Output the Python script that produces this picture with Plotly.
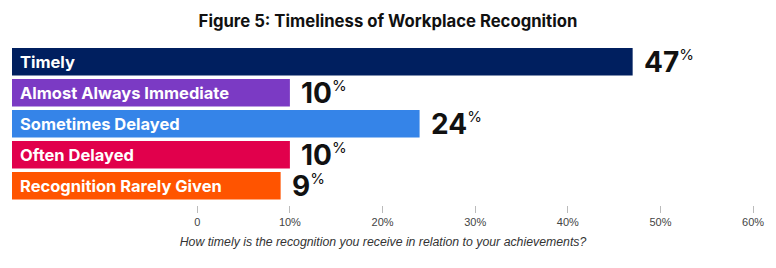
import plotly.graph_objects as go

categories = ["Timely", "Almost Always Immediate", "Sometimes Delayed", "Often Delayed", "Recognition Rarely Given"]
values = [47, 10, 24, 10, 9]
colors = ["#001F5F", "#7B3AC4", "#3584E8", "#E1004C", "#FF5400"]
tick_values = [0, 10, 20, 30, 40, 50, 60]
tick_labels = ["0", "10%", "20%", "30%", "40%", "50%", "60%"]
title_text = "Figure 5: Timeliness of Workplace Recognition"
axis_title = "How timely is the recognition you receive in relation to your achievements?"

bar_base = -20  # bars extend left of the zero tick

fig = go.Figure()
fig.add_trace(go.Bar(
    y=categories,
    x=[v - bar_base for v in values],
    base=bar_base,
    orientation="h",
    marker=dict(color=colors, line=dict(width=0)),
    width=0.89,
    hoverinfo="skip",
))

annotations = []
for cat, val in zip(categories, values):
    annotations.append(dict(
        x=bar_base, y=cat, xref="x", yref="y",
        text="<b>%s</b>" % cat, showarrow=False,
        xanchor="left", yanchor="middle", xshift=6, yshift=0,
        font=dict(family="Inter", size=16.5, color="white"),
    ))
    annotations.append(dict(
        x=val, y=cat, xref="x", yref="y",
        text="<b>%d</b><sup><span style='font-size:15px'>%%</span></sup>" % val,
        showarrow=False,
        xanchor="left", yanchor="middle", xshift=9, yshift=0,
        font=dict(family="Inter", size=28, color="#111111"),
    ))

fig.update_layout(
    width=776, height=268,
    margin=dict(l=12, r=16, t=46, b=63),
    paper_bgcolor="white", plot_bgcolor="white",
    showlegend=False,
    title=dict(text="<b>%s</b>" % title_text, x=0.5, xanchor="center", y=0.92, yanchor="middle",
               font=dict(family="Inter", size=16.7, color="#111111")),
    xaxis=dict(
        range=[-20, 60.1], tickvals=tick_values, ticktext=tick_labels,
        showgrid=False, zeroline=False, showline=False,
        ticks="outside", ticklen=7, tickcolor="#BBBBBB", tickwidth=1,
        tickfont=dict(family="Liberation Sans", size=11, color="#444444"),
        title=dict(text="<i>%s</i>" % axis_title, standoff=10,
                   font=dict(family="Liberation Sans", size=12.3, color="#333333")),
        fixedrange=True,
    ),
    yaxis=dict(
        categoryorder="array", categoryarray=categories,
        autorange=False, range=[4.62, -0.51],
        showticklabels=False, showgrid=False, zeroline=False, showline=False,
        fixedrange=True,
    ),
    annotations=annotations,
)

fig.write_html("out.html")
